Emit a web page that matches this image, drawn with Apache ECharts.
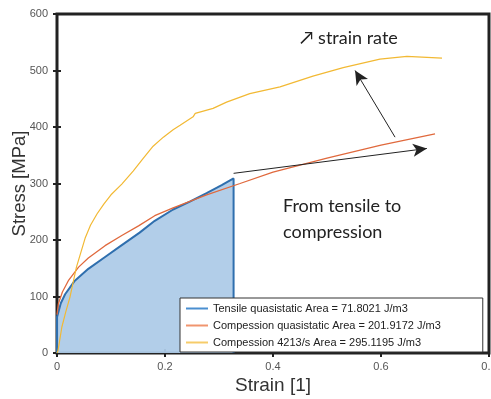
<!DOCTYPE html>
<html>
<head>
<meta charset="utf-8">
<script src="https://cdn.jsdelivr.net/npm/echarts@6/dist/echarts.min.js"></script>
<style>
  html, body { margin: 0; padding: 0; background: #fff; }
  #main { width: 491px; height: 399px; }
</style>
</head>
<body>
<div id="main"></div>
<script>
// strain [1], stress [MPa]
var tensileQS = [[0, 0], [0, 64], [0.0025, 72], [0.007, 88], [0.015, 104], [0.033, 128], [0.058, 149], [0.089, 170], [0.12, 191], [0.153, 213], [0.181, 234], [0.215, 254], [0.246, 268], [0.277, 283], [0.305, 297], [0.327, 309], [0.327, 0]];
var compQS = [[0, 68], [0.0025, 87], [0.01, 108], [0.021, 128], [0.04, 152], [0.058, 168], [0.089, 190], [0.12, 208], [0.151, 225], [0.181, 243], [0.215, 257], [0.277, 280], [0.339, 300], [0.4, 320], [0.5, 345], [0.6, 368], [0.7, 388]];
var comp4213 = [[0, 0], [0.002, 5], [0.009, 46], [0.016, 72], [0.024, 99], [0.036, 152], [0.052, 203], [0.062, 226], [0.074, 246], [0.087, 264], [0.1, 280], [0.12, 299], [0.141, 322], [0.16, 345], [0.178, 366], [0.197, 382], [0.215, 395], [0.228, 403], [0.252, 418], [0.256, 424], [0.289, 433], [0.314, 444], [0.357, 459], [0.413, 471], [0.474, 490], [0.53, 505], [0.598, 520], [0.648, 525], [0.713, 522]];

var seriesNames = ['Tensile quasistatic Area = 71.8021 J/m3', 'Compession quasistatic Area = 201.9172 J/m3', 'Compession 4213/s Area = 295.1195 J/m3'];

// annotation arrows [from, to] in data coords
var arrowRate = [[0.626, 382], [0.552, 500]];
var arrowTC = [[0.327, 318], [0.685, 362]];

var myChart = echarts.init(document.getElementById('main'));

var tickStyle = {show: true, inside: true, length: 4, lineStyle: {color: '#222', width: 2}};

var option = {
    animation: false,
    grid: {left: 57, top: 14, right: 2, bottom: 46, show: true, borderColor: '#222', borderWidth: 3,
        containLabel: false, outerBoundsMode: 'none'},
    legend: {
        orient: 'vertical',
        left: 180,
        bottom: 47,
        data: seriesNames,
        icon: 'rect',
        itemWidth: 22,
        itemHeight: 2,
        itemGap: 6,
        padding: [5, 42, 4, 6],
        backgroundColor: '#fff',
        borderColor: '#333',
        borderWidth: 1,
        textStyle: {fontFamily: 'Liberation Sans', fontSize: 11, color: '#222'}
    },
    xAxis: [
        {
            type: 'value', min: 0, max: 0.8, interval: 0.2,
            name: 'Strain [1]', nameLocation: 'middle', nameGap: 23, nameMoveOverlap: false,
            nameTextStyle: {fontFamily: 'Liberation Sans', fontSize: 19, color: '#333'},
            axisLine: {show: false}, axisTick: tickStyle, splitLine: {show: false},
            axisLabel: {fontFamily: 'Liberation Sans', fontSize: 11, color: '#555', margin: 8,
                formatter: function (v) { return v === 0 ? '0' : String(+v.toFixed(1)); }}
        },
        {type: 'value', position: 'top', min: 0, max: 0.8, interval: 0.2, axisLine: {show: false}, axisTick: tickStyle, axisLabel: {show: false}, splitLine: {show: false}}
    ],
    yAxis: [
        {
            type: 'value', min: 0, max: 600, interval: 100,
            name: 'Stress [MPa]', nameLocation: 'middle', nameGap: 28, nameMoveOverlap: false,
            nameTextStyle: {fontFamily: 'Liberation Sans', fontSize: 18.5, color: '#333'},
            axisLine: {show: false}, axisTick: tickStyle, splitLine: {show: false},
            axisLabel: {fontFamily: 'Liberation Sans', fontSize: 11, color: '#555', margin: 9}
        },
        {type: 'value', position: 'right', min: 0, max: 600, interval: 100, axisLine: {show: false}, axisTick: tickStyle, axisLabel: {show: false}, splitLine: {show: false}}
    ],
    series: [
        {
            name: seriesNames[0], type: 'line', data: tensileQS, showSymbol: false, z: 2,
            lineStyle: {color: '#2f6fae', width: 2}, itemStyle: {color: '#4a8fd0'},
            areaStyle: {color: '#aecbe8', opacity: 0.95}
        },
        {
            name: seriesNames[1], type: 'line', data: compQS, showSymbol: false, z: 3,
            lineStyle: {color: '#e0693d', width: 1.3}, itemStyle: {color: '#f0956e'}
        },
        {
            name: seriesNames[2], type: 'line', data: comp4213, showSymbol: false, z: 3,
            lineStyle: {color: '#f2b934', width: 1.2}, itemStyle: {color: '#f6cc6a'}
        },
        {
            type: 'line', data: [], z: 4,
            markLine: {
                silent: true, symbol: ['none', 'arrow'], symbolSize: [10, 14],
                label: {show: false},
                lineStyle: {color: '#222', width: 1, type: 'solid'},
                data: [
                    [{coord: arrowRate[0]}, {coord: arrowRate[1]}],
                    [{coord: arrowTC[0]}, {coord: arrowTC[1]}]
                ]
            }
        }
    ],
    graphic: [
        {type: 'text', left: 300, top: 29, style: {text: '\u2197 strain rate', font: '18px Lato', fill: '#222'}},
        {type: 'text', left: 283, top: 193, style: {text: 'From tensile to\ncompression', font: '18px Lato', fill: '#222', lineHeight: 26}}
    ]
};

myChart.setOption(option);
</script>
</body>
</html>
